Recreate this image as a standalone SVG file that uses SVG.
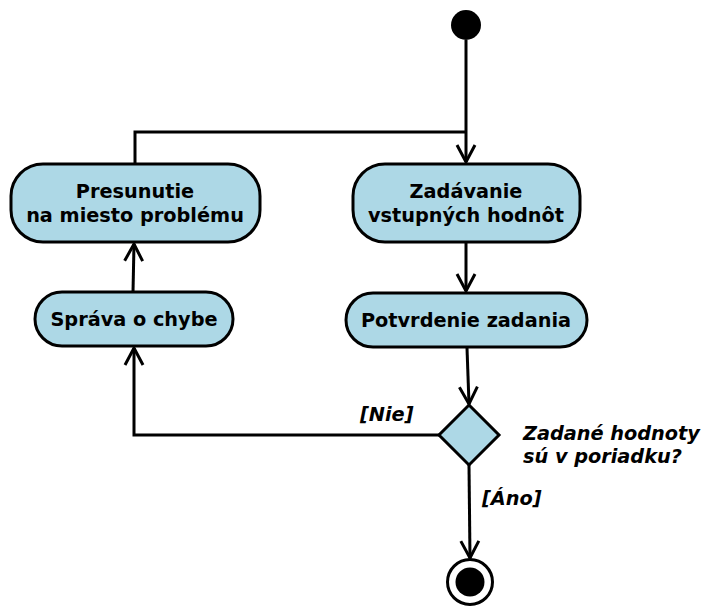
<svg xmlns="http://www.w3.org/2000/svg" width="702" height="608" viewBox="0 0 702 608">
<style>
.node{fill:#add8e6;stroke:#000;stroke-width:3}
.t{font-family:"DejaVu Sans",sans-serif;font-weight:bold;font-size:19.3px;text-anchor:middle;fill:#000}
.l{font-family:"DejaVu Sans",sans-serif;font-weight:bold;font-style:italic;font-size:19.3px;fill:#000}
.c{fill:none;stroke:#000;stroke-width:3}
</style>
<defs>
<marker id="a" viewBox="0 0 22 22" refX="20" refY="11" markerWidth="22" markerHeight="22" markerUnits="userSpaceOnUse" orient="auto">
<path d="M3,2 L20,11 L3,20" fill="none" stroke="#000" stroke-width="3"/>
</marker>
</defs>
<g id="connectors">
<path class="c" d="M466,40 L466,162" marker-end="url(#a)"/>
<path class="c" d="M135,164 L135,132 L466,132"/>
<path class="c" d="M466,243 L466,291" marker-end="url(#a)"/>
<path class="c" d="M467,348 L469,404" marker-end="url(#a)"/>
<path class="c" d="M439,435 L134,435 L134,348" marker-end="url(#a)"/>
<path class="c" d="M133,292 L134,244" marker-end="url(#a)"/>
<path class="c" d="M469,465 L470,558" marker-end="url(#a)"/>
</g>
<g id="start"><circle cx="466" cy="25" r="15" fill="#000"/></g>
<g id="presunutie">
<rect class="node" x="11" y="164" width="249" height="78" rx="32"/>
<text class="t" x="135" y="198">Presunutie</text>
<text class="t" x="135" y="222">na miesto problému</text>
</g>
<g id="zadavanie">
<rect class="node" x="353" y="164" width="227" height="78" rx="32"/>
<text class="t" x="466" y="198">Zadávanie</text>
<text class="t" x="466" y="222">vstupných hodnôt</text>
</g>
<g id="potvrdenie">
<rect class="node" x="346" y="293" width="241" height="54" rx="27"/>
<text class="t" x="466" y="327">Potvrdenie zadania</text>
</g>
<g id="sprava">
<rect class="node" x="35" y="292" width="198" height="54" rx="27"/>
<text class="t" x="134" y="326">Správa o chybe</text>
</g>
<g id="decision">
<polygon class="node" points="469,405 499,435 469,465 439,435"/>
<text class="l" x="523" y="440">Zadané hodnoty</text>
<text class="l" x="523" y="463">sú v poriadku?</text>
</g>
<g id="labels">
<text class="l" x="360" y="421">[Nie]</text>
<text class="l" x="482" y="505">[Áno]</text>
</g>
<g id="end">
<circle cx="470" cy="582" r="22.5" fill="#fff" stroke="#000" stroke-width="3"/>
<circle cx="470" cy="582" r="14.5" fill="#000"/>
</g>
</svg>
